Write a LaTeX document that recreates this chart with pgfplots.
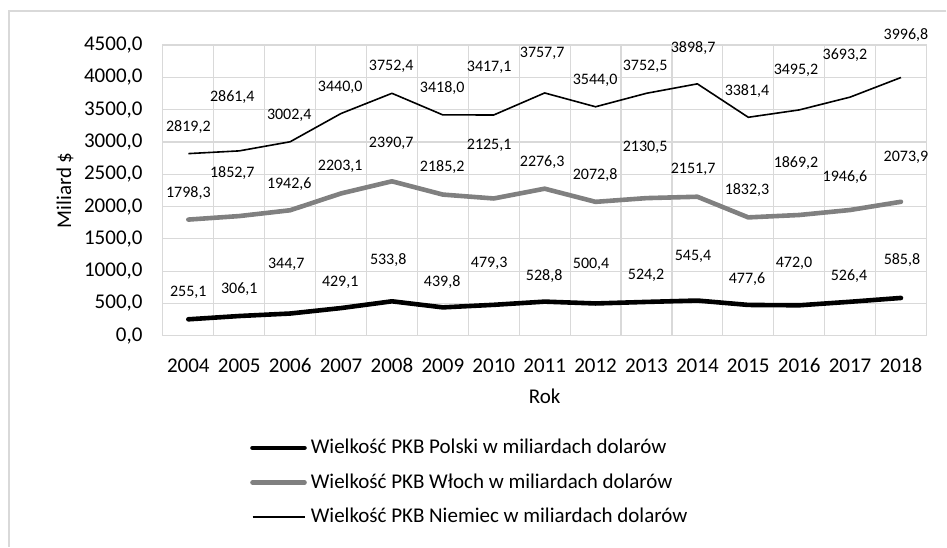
\documentclass[border=0pt]{standalone}
\usepackage{fontspec}
\setmainfont{Carlito}
\usepackage{pgfplots}
\usepackage{pgfplotstable}
\pgfplotsset{compat=1.18}

\definecolor{gridgray}{HTML}{D9D9D9}
\definecolor{itgray}{HTML}{808080}

% columns: x = year index, val = GDP (bn USD), lx/ly = where Excel put the data label
\pgfplotstableread{
x val lx ly
0 255.1 0 665
1 306.1 1.0 727
2 344.7 1.924 1113
3 429.1 2.984 835
4 533.8 3.927 1175
5 439.8 4.987 835
6 479.3 5.91 1129
7 528.8 6.99 928
8 500.4 7.913 1113
9 524.2 8.993 928
10 545.4 9.916 1222
11 477.6 10.976 881
12 472.0 11.899 1129
13 526.4 12.979 928
14 585.8 14.02 1175
}\polska

\pgfplotstableread{
x val lx ly
0 1798.3 0 2211
1 1852.7 0.864 2521
2 1942.6 1.983 2351
3 2203.1 2.984 2629
4 2390.7 3.986 2985
5 2185.2 4.987 2613
6 2125.1 5.91 2954
7 2276.3 6.951 2691
8 2072.8 7.991 2490
9 2130.5 8.973 2923
10 2151.7 9.916 2582
11 1832.3 10.976 2258
12 1869.2 11.938 2675
13 1946.6 12.900 2459
14 2073.9 14.098 2768
}\wlochy

\pgfplotstableread{
x val lx ly
0 2819.2 0 3232
1 2861.4 0.864 3696
2 3002.4 1.983 3418
3 3440.0 2.984 3851
4 3752.4 3.986 4175
5 3418.0 4.987 3835
6 3417.1 5.91 4160
7 3757.7 6.951 4376
8 3544.0 7.991 3959
9 3752.5 8.973 4175
10 3898.7 9.916 4454
11 3381.4 10.976 3789
12 3495.2 11.938 4113
13 3693.2 12.900 4345
14 3996.8 14.098 4655
}\niemcy

\tikzset{
  numfmt/.style={/pgf/number format/fixed, /pgf/number format/fixed zerofill,
    /pgf/number format/precision=1, /pgf/number format/use comma,
    /pgf/number format/1000 sep={}, /pgf/number format/assume math mode=true},
}
\pgfplotsset{
  datalabels/.style={draw=none, forget plot, nodes near coords,
    point meta=explicit,
    every node near coord/.append style={anchor=center, inner sep=0pt,
      font=\fontsize{8}{9}\selectfont, numfmt}},
}

\begin{document}
\begin{tikzpicture}
\begin{axis}[
    scale only axis,
    width=382pt, height=145.5pt,
    clip=false,
    xmin=-0.5, xmax=14.5,
    ymin=0, ymax=4500,
    xtick={0,...,14},
    xticklabels={2004,2005,2006,2007,2008,2009,2010,2011,2012,2013,2014,2015,2016,2017,2018},
    minor xtick={-0.5,0.5,...,14.5},
    ytick={0,500,...,4500},
    major tick length=0pt, minor tick length=0pt,
    xminorgrids, ymajorgrids,
    grid style={gridgray, line width=0.6pt},
    minor grid style={gridgray, line width=0.6pt},
    axis line style={gridgray, line width=0.6pt},
    tick label style={font=\fontsize{10.5}{12}\selectfont},
    yticklabel style={numfmt, anchor=east, inner sep=0pt, xshift=-10pt},
    xticklabel style={anchor=north, inner sep=0pt, text height=7.5pt, text depth=0pt, yshift=-10.5pt},
    xlabel={Rok},
    ylabel={Miliard \$},
    label style={font=\fontsize{10.5}{12}\selectfont},
    xlabel style={at={(rel axis cs:0.5,0)}, anchor=center, yshift=-30.5pt},
    ylabel style={at={(rel axis cs:0,0.5)}, anchor=center, yshift=49pt},
    legend style={draw=none, fill=none, inner sep=0pt,
      at={(rel axis cs:0,0)}, anchor=north west, xshift=43.5pt, yshift=-49.5pt,
      font=\fontsize{10.5}{12}\selectfont, row sep=4.5pt,
      nodes={inner sep=2pt}},
    legend cell align=left,
    legend image code/.code={\draw[#1] (0pt,0pt) -- (26pt,0pt);},
]
\addplot[black, line width=2.3pt, line cap=round, line join=round]
  table[x=x, y=val] {\polska};
\addlegendentry{Wielkość PKB Polski w miliardach dolarów}

\addplot[itgray, line width=2.3pt, line cap=round, line join=round]
  table[x=x, y=val] {\wlochy};
\addlegendentry{Wielkość PKB Włoch w miliardach dolarów}

\addplot[black, line width=0.8pt, line join=round]
  table[x=x, y=val] {\niemcy};
\addlegendentry{Wielkość PKB Niemiec w miliardach dolarów}

% data labels
\addplot[datalabels] table[x=lx, y=ly, meta=val] {\polska};
\addplot[datalabels] table[x=lx, y=ly, meta=val] {\wlochy};
\addplot[datalabels] table[x=lx, y=ly, meta=val] {\niemcy};
\end{axis}
% chart area frame (only top and left edges visible)
\draw[gridgray, line width=0.6pt] (392pt,162.5pt) -- (-77pt,162.5pt) -- (-77pt,-105.5pt);
\useasboundingbox (-81.5pt,-105.5pt) rectangle (392pt,168pt);
\end{tikzpicture}
\end{document}
